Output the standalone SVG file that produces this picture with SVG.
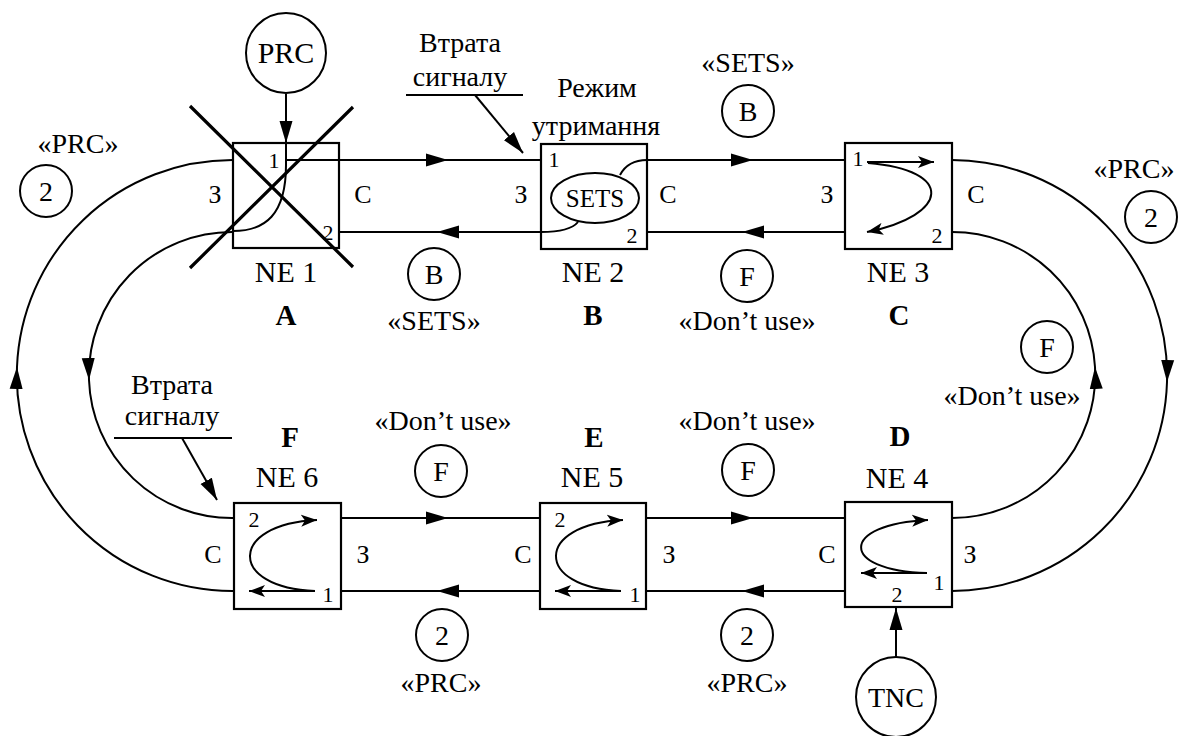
<svg xmlns="http://www.w3.org/2000/svg" width="1180" height="736" viewBox="0 0 1180 736" font-family="'Liberation Serif', 'Times New Roman', Times, serif">
<style>
text{fill:#000;text-anchor:middle}
.t{font-size:28px}
.ne{font-size:30px}
.bl{font-size:29px;font-weight:bold}
.sd{font-size:26px}
.pt{font-size:22px}
.ln{fill:none;stroke:#000;stroke-width:2}
.box{fill:none;stroke:#000;stroke-width:2.2}
.cx{stroke:#000;stroke-width:3.2;fill:none}
.c{fill:#fff;stroke:#000;stroke-width:2}
.mid{marker-mid:url(#big)}
.end{marker-end:url(#big)}
.sm{marker-end:url(#small)}
</style>
<defs>
<marker id="big" viewBox="0 0 23 16" refX="22" refY="8" markerWidth="23" markerHeight="16" orient="auto" markerUnits="userSpaceOnUse"><path d="M0,1.5 L22,8 L0,14.5 Z" fill="#000"/></marker>
<marker id="small" viewBox="0 0 17 13" refX="16" refY="6.5" markerWidth="17" markerHeight="13" orient="auto" markerUnits="userSpaceOnUse"><path d="M0,0.5 L16,6.5 L0,12.5 L4,6.5 Z" fill="#000"/></marker>
</defs>
<rect width="1180" height="736" fill="#fff"/>

<g id="connectors">
<path class="ln mid" d="M286 160 L448 160 L541 160"/>
<path class="ln mid" d="M647 160 L753 160 L845 160"/>
<path class="ln mid" d="M845 232 L742 232 L647 232"/>
<path class="ln mid" d="M541 232 L437 232 L339 232"/>
<path class="ln mid" d="M341 518 L448 518 L540 518"/>
<path class="ln mid" d="M646 518 L753 518 L845 518"/>
<path class="ln mid" d="M845 591 L742 591 L646 591"/>
<path class="ln mid" d="M540 591 L437 591 L341 591"/>
<path class="ln mid" d="M234 591 A215.5 215.5 0 0 1 17 367 A215.5 215.5 0 0 1 233 160"/>
<path class="ln mid" d="M233 232 A143 143 0 0 0 89 380 A143 143 0 0 0 234 518"/>
<path class="ln mid" d="M952 160 A215.5 215.5 0 0 1 1167 382 A215.5 215.5 0 0 1 952 591"/>
<path class="ln mid" d="M952 518 A143 143 0 0 0 1095 367 A143 143 0 0 0 952 232"/>
<path class="ln end" d="M286 94 L286 143"/>
<path class="ln end" d="M896 657 L896 608"/>
<path class="ln end" d="M475 95 L523 153"/>
<path class="ln end" d="M182 438 L217 500"/>
</g>

<g id="prc">
<circle class="c" cx="286" cy="53" r="40"/>
<text x="286" y="63" style="font-size:30px">PRC</text>
</g>
<g id="tnc">
<circle class="c" cx="896" cy="697" r="40"/>
<text class="t" x="896" y="707">TNC</text>
</g>

<g id="ne1">
<rect class="box" x="233" y="143" width="106" height="105"/>
<path class="ln" d="M286 143 V165 C286 215 265 231 233 231"/>
<text class="pt" x="274" y="168">1</text>
<text class="pt" x="328" y="240">2</text>
<text class="sd" x="215" y="203">З</text>
<text class="sd" x="363" y="203">С</text>
<text class="ne" x="286" y="282">NE 1</text>
<text class="bl" x="286" y="325">A</text>
<path class="cx" d="M190 106 L353 267 M353 107 L190 268"/>
</g>

<g id="ne2">
<rect class="box" x="541" y="144" width="106" height="105"/>
<ellipse class="ln" cx="595" cy="198" rx="44" ry="25"/>
<text x="595" y="207" style="font-size:25px">SETS</text>
<path class="ln" d="M620 175 Q628 160 647 160 M578 222 Q570 232 541 232"/>
<text class="pt" x="554" y="167">1</text>
<text class="pt" x="632" y="243">2</text>
<text class="sd" x="521" y="203">З</text>
<text class="sd" x="668" y="203">С</text>
<text class="ne" x="593" y="282">NE 2</text>
<text class="bl" x="593" y="325">B</text>
<text class="t" x="597" y="97">Режим</text>
<text class="t" x="596" y="135">утримання</text>
</g>

<g id="ne3">
<rect class="box" x="845" y="143" width="107" height="106"/>
<path class="ln sm" d="M867 162 H934"/>
<path class="ln sm" d="M868 163 C955 170 950 215 867 232"/>
<text class="pt" x="858" y="166">1</text>
<text class="pt" x="937" y="243">2</text>
<text class="sd" x="827" y="203">З</text>
<text class="sd" x="976" y="203">С</text>
<text class="ne" x="898" y="282">NE 3</text>
<text class="bl" x="899" y="325">C</text>
</g>

<g id="ne4">
<rect class="box" x="845" y="502" width="107" height="105"/>
<path class="ln sm" d="M927 573 C839 571 839 524 928 520"/>
<path class="ln sm" d="M927 573 H861"/>
<text class="pt" x="939" y="590">1</text>
<text class="pt" x="897" y="602">2</text>
<text class="sd" x="827" y="563">С</text>
<text class="sd" x="970" y="563">З</text>
<text class="ne" x="897" y="488">NE 4</text>
<text class="bl" x="900" y="446">D</text>
</g>

<g id="ne5">
<rect class="box" x="540" y="503" width="106" height="106"/>
<path class="ln sm" d="M621 591 C534 588 534 524 623 520"/>
<path class="ln sm" d="M621 591 H555"/>
<text class="pt" x="635" y="602">1</text>
<text class="pt" x="560" y="527">2</text>
<text class="sd" x="523" y="563">С</text>
<text class="sd" x="669" y="563">З</text>
<text class="ne" x="592" y="487">NE 5</text>
<text class="bl" x="594" y="447">E</text>
</g>

<g id="ne6">
<rect class="box" x="234" y="503" width="107" height="106"/>
<path class="ln sm" d="M315 591 C228 588 228 524 317 520"/>
<path class="ln sm" d="M315 591 H249"/>
<text class="pt" x="328" y="602">1</text>
<text class="pt" x="254" y="527">2</text>
<text class="sd" x="213" y="563">С</text>
<text class="sd" x="363" y="563">З</text>
<text class="ne" x="287" y="487">NE 6</text>
<text class="bl" x="290" y="447">F</text>
</g>

<g id="labels">
<text class="t" x="78" y="153">«PRC»</text>
<circle class="c" cx="46" cy="191" r="26"/><text class="t" x="46" y="201">2</text>
<text class="t" x="1134" y="178">«PRC»</text>
<circle class="c" cx="1151" cy="217" r="26"/><text class="t" x="1151" y="227">2</text>
<text class="t" x="460" y="52">Втрата</text>
<text class="t" x="460" y="86">сигналу</text>
<path class="ln" d="M406 95 H523"/>
<text class="t" x="172" y="394">Втрата</text>
<text class="t" x="172" y="425">сигналу</text>
<path class="ln" d="M114 438 H232"/>
<text class="t" x="748" y="72">«SETS»</text>
<circle class="c" cx="748" cy="111" r="26"/><text class="t" x="748" y="121">B</text>
<circle class="c" cx="434" cy="274" r="26"/><text class="t" x="434" y="284">B</text>
<text class="t" x="434" y="330">«SETS»</text>
<circle class="c" cx="747" cy="276" r="26"/><text class="t" x="747" y="286">F</text>
<text class="t" x="747" y="330">«Don’t use»</text>
<circle class="c" cx="1047" cy="347" r="26"/><text class="t" x="1047" y="357">F</text>
<text class="t" x="1012" y="405">«Don’t use»</text>
<text class="t" x="443" y="430">«Don’t use»</text>
<circle class="c" cx="441" cy="471" r="26"/><text class="t" x="441" y="481">F</text>
<text class="t" x="747" y="430">«Don’t use»</text>
<circle class="c" cx="748" cy="470" r="26"/><text class="t" x="748" y="480">F</text>
<circle class="c" cx="442" cy="635" r="26"/><text class="t" x="442" y="645">2</text>
<text class="t" x="441" y="692">«PRC»</text>
<circle class="c" cx="747" cy="635" r="26"/><text class="t" x="747" y="645">2</text>
<text class="t" x="747" y="692">«PRC»</text>
</g>
</svg>
